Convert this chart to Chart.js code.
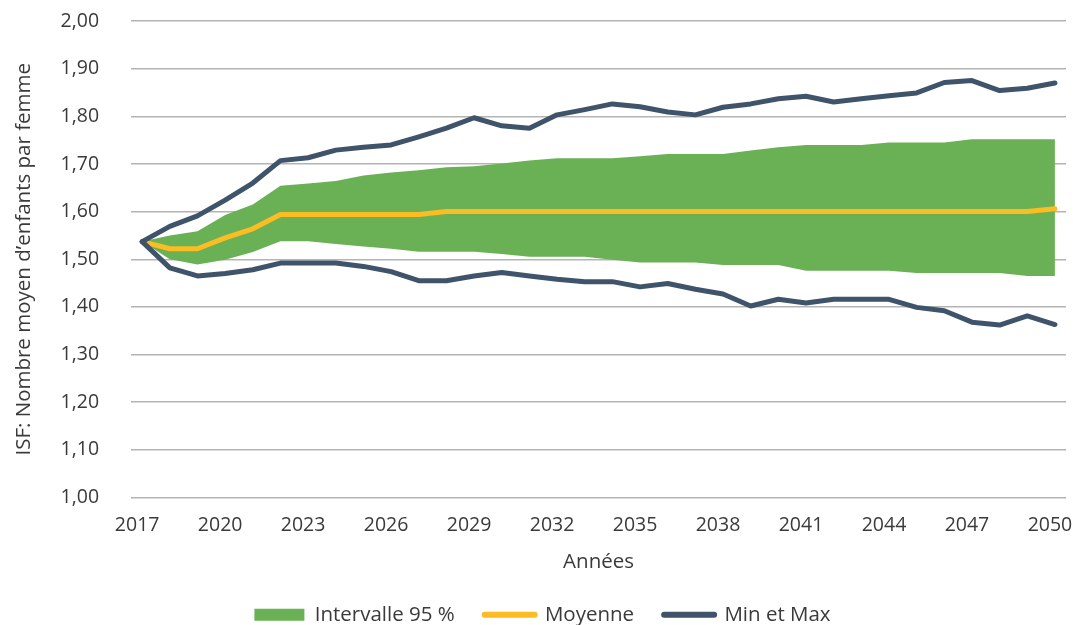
<!DOCTYPE html>
<html lang="fr">
<head>
  <meta charset="UTF-8" />
  <title>ISF projeté 2017-2050</title>
  <script src="https://cdn.jsdelivr.net/npm/chart.js"></script>
  <style>
    body { margin: 0; background: #fff; }
    .wrap { width: 1073px; height: 625px; position: relative; }
  </style>
</head>
<body>
  <div class="wrap">
    <canvas id="isfChart"></canvas>
  </div>

  <script>
    // Années 2017 à 2050
    const years = [2017, 2018, 2019, 2020, 2021, 2022, 2023, 2024, 2025, 2026, 2027, 2028,
      2029, 2030, 2031, 2032, 2033, 2034, 2035, 2036, 2037, 2038, 2039,
      2040, 2041, 2042, 2043, 2044, 2045, 2046, 2047, 2048, 2049, 2050];
    const tickYears = [2017, 2020, 2023, 2026, 2029, 2032, 2035, 2038, 2041, 2044, 2047, 2050];
    const yTicks = [1.0, 1.1, 1.2, 1.3, 1.4, 1.5, 1.6, 1.7, 1.8, 1.9, 2.0];

    // Intervalle 95 % (borne haute / borne basse)
    const bandHigh = [1.537, 1.550, 1.559, 1.593, 1.615, 1.654, 1.659, 1.664, 1.676, 1.682, 1.687, 1.693,
      1.695, 1.701, 1.707, 1.712, 1.712, 1.712, 1.716, 1.721, 1.721, 1.721, 1.728,
      1.735, 1.740, 1.740, 1.740, 1.745, 1.745, 1.745, 1.752, 1.752, 1.752, 1.752];
    const bandLow = [1.537, 1.500, 1.489, 1.499, 1.515, 1.538, 1.538, 1.532, 1.527, 1.522, 1.516, 1.516,
      1.516, 1.511, 1.505, 1.505, 1.505, 1.499, 1.493, 1.493, 1.493, 1.488, 1.488,
      1.488, 1.476, 1.476, 1.476, 1.476, 1.471, 1.471, 1.471, 1.471, 1.465, 1.465];

    // Moyenne
    const mean = [1.537, 1.522, 1.522, 1.545, 1.564, 1.594, 1.594, 1.594, 1.594, 1.594, 1.594, 1.600,
      1.600, 1.600, 1.600, 1.600, 1.600, 1.600, 1.600, 1.600, 1.600, 1.600, 1.600,
      1.600, 1.600, 1.600, 1.600, 1.600, 1.600, 1.600, 1.600, 1.600, 1.600, 1.606];

    // Min et Max
    const maxVals = [1.537, 1.569, 1.591, 1.624, 1.660, 1.707, 1.713, 1.729, 1.735, 1.740, 1.757, 1.775,
      1.797, 1.780, 1.775, 1.803, 1.814, 1.826, 1.820, 1.809, 1.803, 1.819, 1.826,
      1.837, 1.842, 1.830, 1.837, 1.843, 1.849, 1.871, 1.875, 1.854, 1.859, 1.870];
    const minVals = [1.537, 1.482, 1.465, 1.470, 1.478, 1.492, 1.492, 1.492, 1.485, 1.474, 1.455, 1.455,
      1.465, 1.472, 1.465, 1.458, 1.453, 1.453, 1.442, 1.449, 1.437, 1.427, 1.402,
      1.416, 1.408, 1.416, 1.416, 1.416, 1.399, 1.392, 1.368, 1.362, 1.381, 1.363];

    const GREEN = '#6ab155';
    const YELLOW = '#fbbc24';
    const NAVY = '#3f546a';
    const TEXT = '#3a3a3a';
    const FONT = "'Open Sans', sans-serif";

    const pts = vals => years.map((yr, i) => ({ x: yr, y: vals[i] }));

    const ctx = document.getElementById('isfChart').getContext('2d');
    new Chart(ctx, {
      type: 'line',
      data: {
        datasets: [
          { label: 'Intervalle 95 %', data: pts(bandHigh), borderWidth: 0, pointRadius: 0,
            backgroundColor: GREEN, fill: '+1', order: 3 },
          { label: 'bas', data: pts(bandLow), borderWidth: 0, pointRadius: 0,
            backgroundColor: GREEN, fill: false, order: 3 },
          { label: 'Moyenne', data: pts(mean), borderColor: YELLOW, borderWidth: 5,
            pointRadius: 0, fill: false, order: 2 },
          { label: 'Max', data: pts(maxVals), borderColor: NAVY, borderWidth: 5,
            pointRadius: 0, fill: false, order: 1 },
          { label: 'Min', data: pts(minVals), borderColor: NAVY, borderWidth: 5,
            pointRadius: 0, fill: false, order: 1 }
        ]
      },
      options: {
        responsive: true,
        maintainAspectRatio: false,
        animation: false,
        layout: { padding: { top: 21, right: 0, left: 12, bottom: -10 } },
        elements: { line: { tension: 0, borderJoinStyle: 'round', borderCapStyle: 'round' } },
        plugins: {
          tooltip: { enabled: false },
          legend: {
            position: 'bottom',
            labels: {
              color: TEXT,
              font: { family: FONT, size: 20.5 },
              usePointStyle: true,
              pointStyleWidth: 50,
              boxWidth: 50,
              boxHeight: 12,
              padding: 30,
              generateLabels: () => [
                { text: 'Intervalle 95 %', pointStyle: 'rect', fillStyle: GREEN,
                  strokeStyle: GREEN, lineWidth: 0, fontColor: TEXT, datasetIndex: 0 },
                { text: 'Moyenne', pointStyle: 'line', fillStyle: YELLOW,
                  strokeStyle: YELLOW, lineWidth: 6, lineCap: 'round', fontColor: TEXT, datasetIndex: 2 },
                { text: 'Min et Max', pointStyle: 'line', fillStyle: NAVY,
                  strokeStyle: NAVY, lineWidth: 6, lineCap: 'round', fontColor: TEXT, datasetIndex: 3 }
              ]
            }
          }
        },
        scales: {
          x: {
            type: 'linear',
            min: 2016.6,
            max: 2050.4,
            afterBuildTicks: scale => { scale.ticks = tickYears.map(v => ({ value: v })); },
            // the last label fits inside the canvas, keep the plot wide
            afterFit: scale => { scale.paddingRight = 7; },
            grid: { display: false },
            border: { display: false },
            ticks: {
              color: TEXT,
              font: { family: FONT, size: 19.5 },
              padding: 8,
              labelOffset: -5,
              autoSkip: false,
              maxRotation: 0,
              callback: v => String(v)
            },
            title: {
              display: true,
              text: 'Années',
              color: TEXT,
              font: { family: FONT, size: 20.5 },
              padding: { top: 5, bottom: 0 }
            }
          },
          y: {
            min: 1,
            max: 2,
            afterBuildTicks: scale => { scale.ticks = yTicks.map(v => ({ value: v })); },
            grid: { color: '#b4b4b4', lineWidth: 1.5, drawTicks: true, tickLength: 28,
              tickColor: 'rgba(0,0,0,0)' },
            border: { display: false },
            ticks: {
              color: TEXT,
              font: { family: FONT, size: 19.5 },
              padding: 4,
              callback: v => v.toFixed(2).replace('.', ',')
            },
            title: {
              display: true,
              text: 'ISF: Nombre moyen d\u2019enfants par femme',
              color: TEXT,
              font: { family: FONT, size: 20.5 },
              padding: { top: 0, bottom: 20 }
            }
          }
        }
      }
    });
  </script>
</body>
</html>
